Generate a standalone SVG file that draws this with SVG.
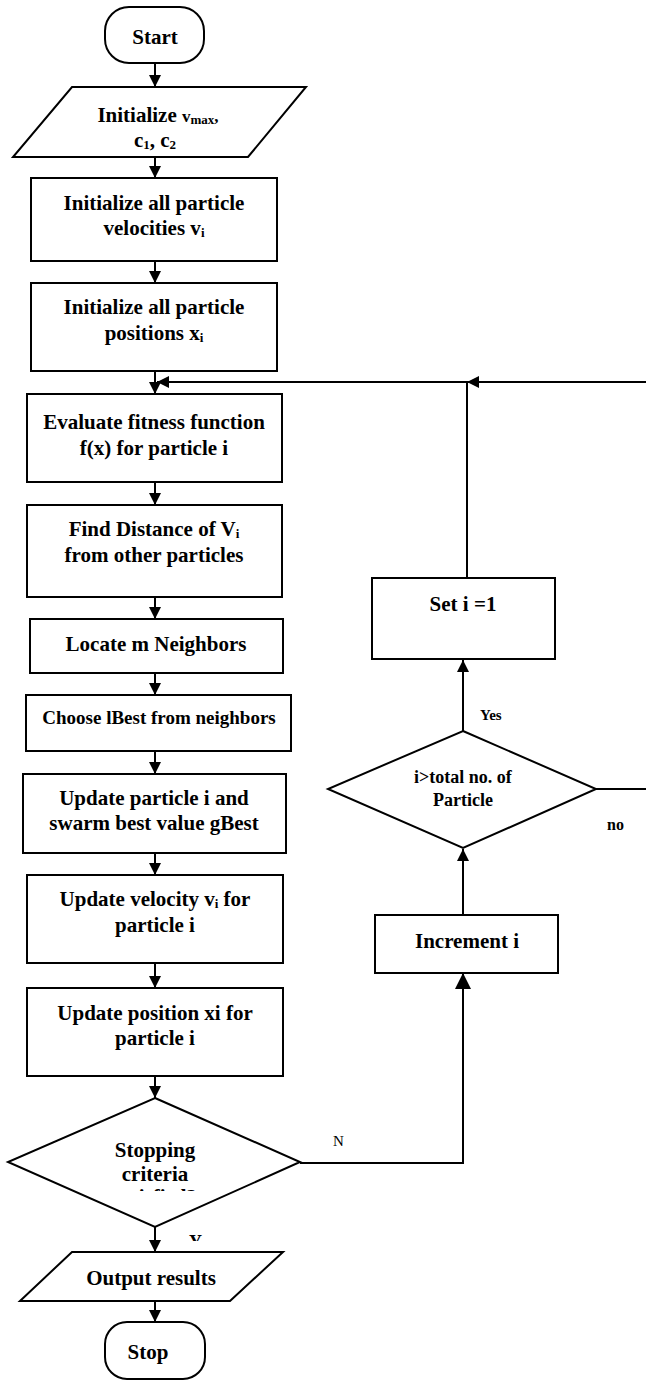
<svg xmlns="http://www.w3.org/2000/svg" width="646" height="1382" viewBox="0 0 646 1382" font-family="'Liberation Serif', 'Times New Roman', serif">
<style>
.s{fill:#fff;stroke:#000;stroke-width:2}
.t{font-family:'Liberation Serif','Times New Roman',serif;font-weight:bold;font-size:21px;text-anchor:middle;fill:#000}
.c{fill:none;stroke:#000;stroke-width:2}
.sub{font-size:13px}
</style>
<defs>
<marker id="ah" viewBox="0 0 10 10" refX="10" refY="5" markerWidth="6" markerHeight="6" orient="auto"><path d="M0,0L10,5L0,10z" fill="#000"/></marker>
<marker id="ab" viewBox="0 0 10 10" refX="10" refY="5" markerWidth="8" markerHeight="8" orient="auto"><path d="M0,0L10,5L0,10z" fill="#000"/></marker>
<clipPath id="cl1"><rect x="100" y="1186" width="120" height="5"/></clipPath>
<clipPath id="cl2"><rect x="180" y="1228" width="30" height="13"/></clipPath>
</defs>
<g id="connectors">
<path class="c" marker-end="url(#ah)" d="M155,63V87"/>
<path class="c" marker-end="url(#ah)" d="M155,157V178"/>
<path class="c" marker-end="url(#ah)" d="M155,261V283"/>
<path class="c" marker-end="url(#ah)" d="M155,371V394"/>
<path class="c" marker-end="url(#ah)" d="M646,382H467"/>
<path class="c" marker-end="url(#ah)" d="M467,382H157"/>
<path class="c" d="M467,578V382"/>
<path class="c" marker-end="url(#ah)" d="M155,482V505"/>
<path class="c" marker-end="url(#ah)" d="M155,597V619"/>
<path class="c" marker-end="url(#ah)" d="M155,673V695"/>
<path class="c" marker-end="url(#ah)" d="M155,751V774"/>
<path class="c" marker-end="url(#ah)" d="M155,853V875"/>
<path class="c" marker-end="url(#ah)" d="M155,963V988"/>
<path class="c" marker-end="url(#ah)" d="M155,1076V1098"/>
<path class="c" marker-end="url(#ah)" d="M155,1227V1252"/>
<path class="c" marker-end="url(#ah)" d="M155,1301V1322"/>
<path class="c" marker-end="url(#ab)" d="M300,1163H463V973"/>
<path class="c" marker-end="url(#ah)" d="M463,915V849"/>
<path class="c" marker-end="url(#ah)" d="M463,731V660"/>
<path class="c" d="M596,789H646"/>
<text x="333" y="1146" font-family="'Liberation Serif', serif" font-size="15">N</text>
<text x="480" y="720" font-family="'Liberation Serif', serif" font-size="15" font-weight="bold">Yes</text>
<text x="607" y="830" font-family="'Liberation Serif', serif" font-size="16" font-weight="bold">no</text>
<text x="189" y="1248" font-family="'Liberation Serif', serif" font-size="18" font-weight="bold" clip-path="url(#cl2)">Y</text>
</g>
<g id="start">
<rect class="s" x="105" y="7" width="99" height="56" rx="24"/>
<text class="t" x="155" y="44">Start</text>
</g>
<g id="init-params">
<polygon class="s" points="72,87 306,87 248,157 13,157"/>
<text class="t" x="158" y="122">Initialize  <tspan font-size="17">v<tspan class="sub" dy="2">max</tspan><tspan dy="-2">,</tspan></tspan></text>
<text class="t" x="155" y="147">c<tspan class="sub" dy="2">1</tspan><tspan dy="-2">, c</tspan><tspan class="sub" dy="2">2</tspan></text>
</g>
<g id="init-vel">
<rect class="s" x="31" y="178" width="246" height="83"/>
<text class="t" x="154" y="210">Initialize all particle</text>
<text class="t" x="154" y="235">velocities v<tspan class="sub" dy="2">i</tspan></text>
</g>
<g id="init-pos">
<rect class="s" x="31" y="283" width="246" height="88"/>
<text class="t" x="154" y="314">Initialize all particle</text>
<text class="t" x="154" y="340">positions x<tspan class="sub" dy="2">i</tspan></text>
</g>
<g id="eval">
<rect class="s" x="27" y="394" width="255" height="88"/>
<text class="t" x="154" y="429">Evaluate fitness  function</text>
<text class="t" x="154" y="455">f(x) for particle i</text>
</g>
<g id="distance">
<rect class="s" x="27" y="505" width="255" height="92"/>
<text class="t" x="154" y="536">Find Distance of V<tspan class="sub" dy="2">i</tspan></text>
<text class="t" x="154" y="562">from other particles</text>
</g>
<g id="locate">
<rect class="s" x="30" y="619" width="253" height="54"/>
<text class="t" x="156" y="651">Locate m Neighbors</text>
</g>
<g id="choose">
<rect class="s" x="26" y="695" width="265" height="56"/>
<text class="t" x="159" y="724" style="font-size:19px">Choose lBest from neighbors</text>
</g>
<g id="update-best">
<rect class="s" x="23" y="774" width="263" height="79"/>
<text class="t" x="154" y="805">Update particle i and</text>
<text class="t" x="154" y="830">swarm best value gBest</text>
</g>
<g id="update-vel">
<rect class="s" x="27" y="875" width="256" height="88"/>
<text class="t" x="155" y="906">Update velocity v<tspan class="sub" dy="2">i</tspan><tspan dy="-2">  for</tspan></text>
<text class="t" x="155" y="932">particle i</text>
</g>
<g id="update-pos">
<rect class="s" x="27" y="988" width="256" height="88"/>
<text class="t" x="155" y="1020">Update position xi for</text>
<text class="t" x="155" y="1045">particle i</text>
</g>
<g id="stop-criteria">
<polygon class="s" points="155,1098 300,1162 155,1227 8,1162"/>
<text class="t" x="155" y="1157">Stopping</text>
<text class="t" x="155" y="1181">criteria</text>
<text class="t" x="155" y="1204" clip-path="url(#cl1)">satisfied?</text>
</g>
<g id="output">
<polygon class="s" points="72,1252 283,1252 230,1301 20,1301"/>
<text class="t" x="151" y="1285">Output results</text>
</g>
<g id="stop">
<rect class="s" x="105" y="1322" width="100" height="57" rx="22"/>
<text class="t" x="148" y="1359">Stop</text>
</g>
<g id="set-i">
<rect class="s" x="372" y="578" width="183" height="81"/>
<text class="t" x="463" y="611">Set i =1</text>
</g>
<g id="check-i">
<polygon class="s" points="463,731 596,789 463,848 328,789"/>
<text class="t" x="463" y="783" style="font-size:18px">i&gt;total no. of</text>
<text class="t" x="463" y="806" style="font-size:18px">Particle</text>
</g>
<g id="increment">
<rect class="s" x="375" y="915" width="183" height="58"/>
<text class="t" x="467" y="948">Increment i</text>
</g>
</svg>
